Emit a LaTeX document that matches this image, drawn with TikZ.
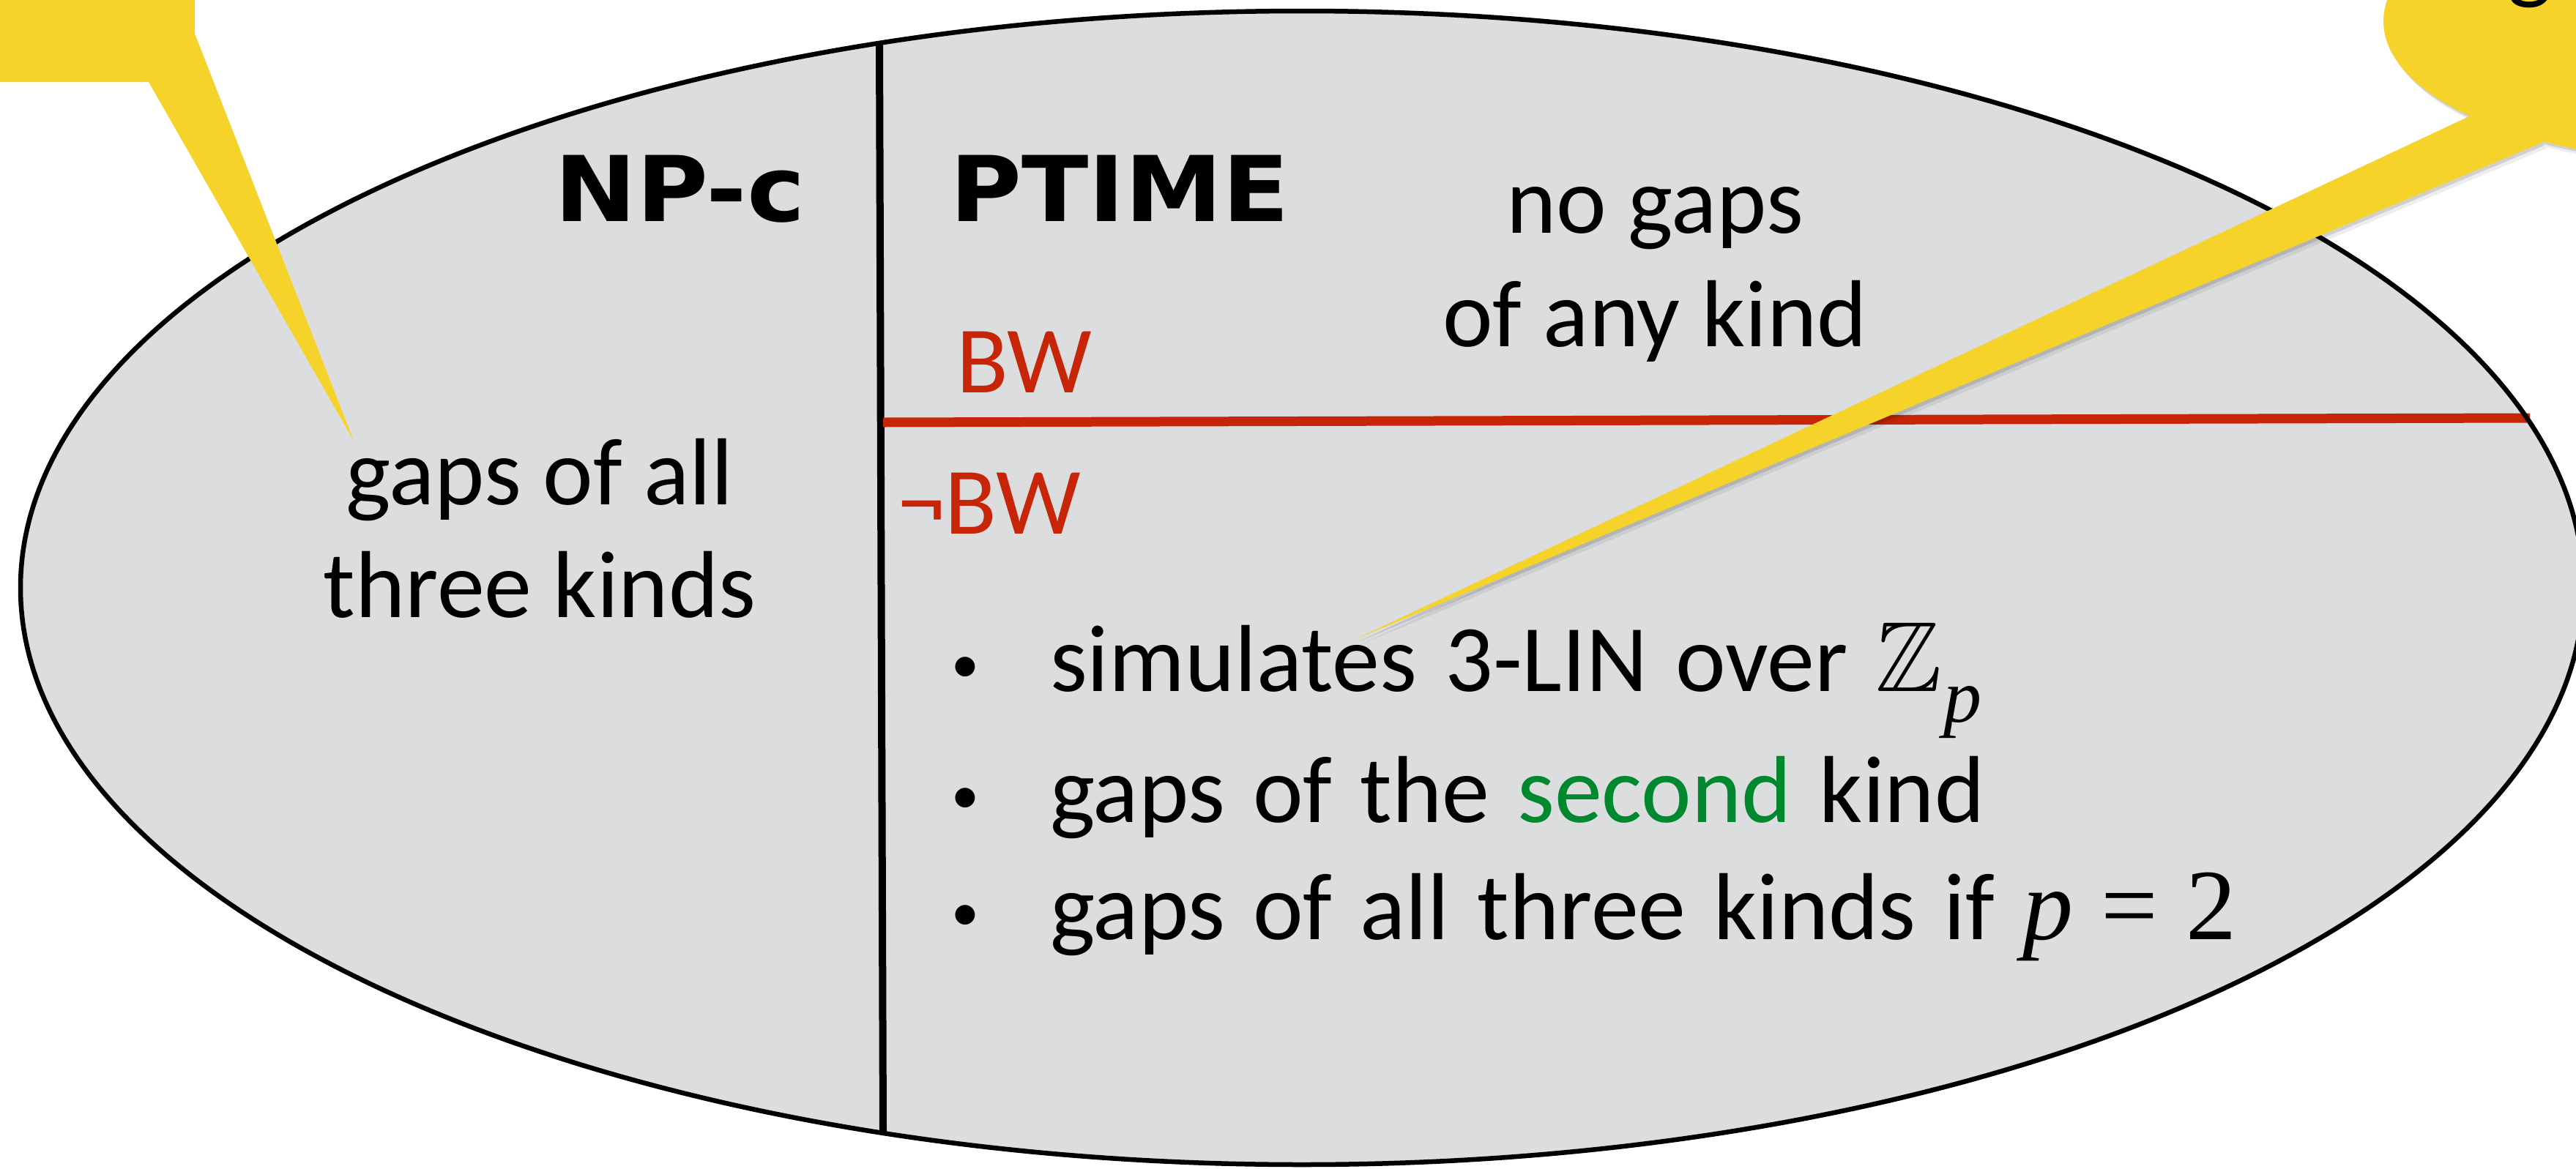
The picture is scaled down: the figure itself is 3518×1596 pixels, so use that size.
\documentclass[tikz,border=0pt]{standalone}
\usepackage{fontspec}
\usepackage{amssymb}
\setmainfont{Carlito}
\newfontfamily\dvbold{DejaVu Sans Bold}[FakeStretch=1.08]
\newfontfamily\tms{Liberation Serif}
\definecolor{callout}{HTML}{F5D32B}
\definecolor{regionfill}{HTML}{DCDDDF}
\definecolor{bwred}{HTML}{C62508}
\definecolor{sgreen}{HTML}{00882E}
\newcommand\bbZ{\scalebox{6.8}{\fontsize{10}{12}\selectfont$\mathbb{Z}$}}
\newcommand\subp{\raisebox{-21pt}{\fontsize{52}{56}\selectfont\tms\itshape p}}
\newcommand\mathp{{\fontsize{69}{80}\selectfont\tms\itshape p}}
\newcommand\mathrest{{\fontsize{69}{80}\selectfont\tms\ = 2}}
\newcommand\widespace{\spaceskip=19pt plus 2pt minus 2pt\relax}
\tikzset{
  body/.style={inner sep=0pt, outer sep=0pt, anchor=base, font=\fontsize{65}{78}\selectfont},
  bodyleft/.style={body, anchor=base west},
  hdr/.style={inner sep=0pt, outer sep=0pt, anchor=base west, font=\fontsize{62}{74}\selectfont\dvbold},
  redlbl/.style={bodyleft, text=bwred},
  bulletdot/.style={inner sep=0pt, outer sep=0pt, anchor=base, font=\fontsize{38}{42}\selectfont},
  outline/.style={line width=3.25pt, draw=black},
  divider/.style={line width=5pt, draw=black},
  redrule/.style={line width=6.5pt, draw=bwred},
  calloutfill/.style={fill=callout},
}
\begin{document}
\begin{tikzpicture}[x=0.5pt, y=-0.5pt]
  \useasboundingbox (0,0) rectangle (3518,1596);
  \fill[white] (0,0) rectangle (3518,1596);
  \clip (0,0) rectangle (3518,1596);

  % main region
  \fill[regionfill] (1778,803) ellipse [x radius=875pt, y radius=394pt];
  \coordinate (divtop) at (1201,59);
  \coordinate (divbot) at (1206,1547);
  \draw[divider] (divtop) -- (divbot);
  \coordinate (redl) at (1206,577);
  \coordinate (redr) at (3455,571);
  \draw[redrule] (redl) -- (redr);
  \draw[outline] (1778,803) ellipse [x radius=875pt, y radius=394pt];

  % headers
  \node[hdr] (np) at (757,302) {NP-c};
  \node[hdr] (ptime) at (1297,302) {PTIME};

  % texts
  \node[body] (nogapsA) at (2260,318) {no gaps};
  \node[body] (nogapsB) at (2260,473) {of any kind};
  \node[redlbl] (bw) at (1306,536) {BW};
  \node[redlbl] (nbw) at (1226,729) {¬BW};
  \node[body] (allA) at (737,689) {gaps of all};
  \node[body] (allB) at (737,843) {three kinds};

  \node[bulletdot] (d1) at (1318,932) {•};
  \node[bulletdot] (d2) at (1318,1111) {•};
  \node[bulletdot] (d3) at (1318,1271) {•};
  \node[bodyleft] (b1) at (1434,944) {\widespace simulates 3-LIN over \bbZ\kern1pt\subp};
  \node[bodyleft] (b2) at (1434,1123) {\widespace gaps of the \textcolor{sgreen}{second} kind};
  \node[bodyleft] (b3) at (1434,1283) {\widespace gaps of all three kinds if \mathp\mathrest};

  % top-left callout
  \fill[calloutfill] (-50,-50) -- (266,-50) -- (266,46) -- (483,602) -- (203,112) -- (-50,112) -- cycle;

  % top-right callout with soft shadow
  \fill[black, opacity=0.07] ([shift={(6,8)}]3700,29) ellipse [x radius=222.5pt, y radius=95.5pt]
     ([shift={(6,8)}]3373,158.5) -- ([shift={(6,8)}]1849,874) -- ([shift={(6,8)}]3470,195.5) -- ([shift={(6,8)}]3550,100) -- cycle;
  \fill[black, opacity=0.12] ([shift={(3,4)}]3700,29) ellipse [x radius=222.5pt, y radius=95.5pt]
     ([shift={(3,4)}]3373,158.5) -- ([shift={(3,4)}]1849,874) -- ([shift={(3,4)}]3470,195.5) -- ([shift={(3,4)}]3550,100) -- cycle;
  \fill[calloutfill] (3700,29) ellipse [x radius=222.5pt, y radius=95.5pt]
     (3373,158.5) -- (1849,874) -- (3470,195.5) -- (3550,100) -- cycle;
  \node[body] (cg) at (3455,-12) {g};
\end{tikzpicture}
\end{document}
